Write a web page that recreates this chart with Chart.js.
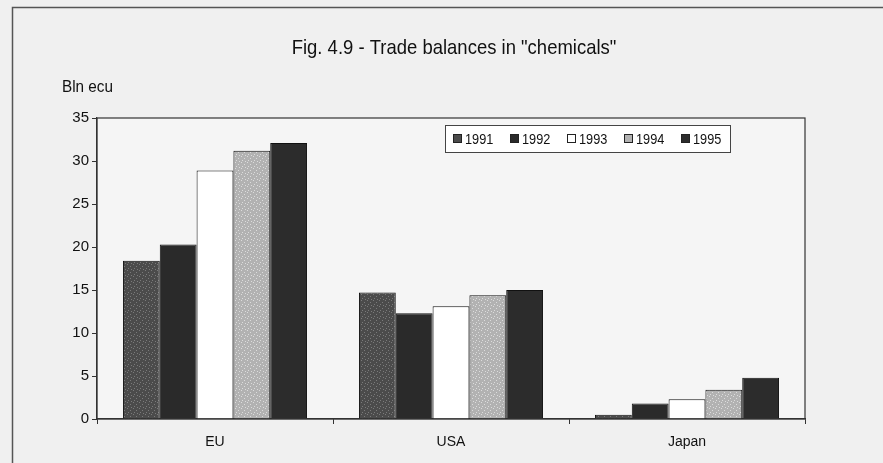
<!DOCTYPE html>
<html>
<head>
<meta charset="utf-8">
<script src="https://cdn.jsdelivr.net/npm/chart.js@4/dist/chart.umd.min.js"></script>
<style>
  html, body { margin: 0; padding: 0; background: #f0f0f0; }
  #wrap { width: 883px; height: 463px; position: relative; }
</style>
</head>
<body>
<div id="wrap"><canvas id="c" width="883" height="463"></canvas></div>
<script>
const categories = ['EU', 'USA', 'Japan'];
const years = ['1991', '1992', '1993', '1994', '1995'];
const v1991 = [18.4, 14.7, 0.5];
const v1992 = [20.3, 12.3, 1.8];
const v1993 = [28.9, 13.1, 2.3];
const v1994 = [31.2, 14.4, 3.4];
const v1995 = [32.1, 15.0, 4.8];
const yTicks = [0, 5, 10, 15, 20, 25, 30, 35];

const FONT = '"Liberation Sans", Arial, sans-serif';
const series = [v1991, v1992, v1993, v1994, v1995];

// speckled fill like the scanned print
function speckle(base, dot) {
  const c = document.createElement('canvas');
  c.width = 6; c.height = 6;
  const g = c.getContext('2d');
  g.fillStyle = base;
  g.fillRect(0, 0, 6, 6);
  g.fillStyle = dot;
  [[1, 0], [4, 2], [2, 4], [5, 5]].forEach(([x, y]) => g.fillRect(x, y, 1, 1));
  return g.createPattern(c, 'repeat');
}
const fills = [
  speckle('#4b4b4b', '#7a7a7a'),
  '#2a2a2a',
  '#ffffff',
  speckle('#b2b2b2', '#dcdcdc'),
  '#2c2c2c',
];
const swatch = ['#4b4b4b', '#2a2a2a', '#ffffff', '#b2b2b2', '#2c2c2c'];

function squeezed(ctx, text, x, y, sx) {
  ctx.save();
  ctx.translate(x, y);
  ctx.scale(sx, 1);
  ctx.fillText(text, 0, 0);
  ctx.restore();
}

// title, unit label, frame and legend box
const decor = {
  id: 'decor',
  beforeDraw(chart) {
    const { ctx, chartArea: a } = chart;
    ctx.save();
    ctx.fillStyle = '#f5f5f5';
    ctx.fillRect(a.left, a.top, a.right - a.left, a.bottom - a.top);
    ctx.strokeStyle = '#555';
    ctx.lineWidth = 1.5;
    ctx.beginPath();
    ctx.moveTo(12.5, 463);
    ctx.lineTo(12.5, 7.5);
    ctx.lineTo(883, 7.5);
    ctx.stroke();
    ctx.restore();
  },
  afterDraw(chart) {
    const { ctx, chartArea: a } = chart;
    ctx.save();
    ctx.fillStyle = '#111';
    ctx.textBaseline = 'middle';
    ctx.textAlign = 'center';
    ctx.font = '21px ' + FONT;
    squeezed(ctx, 'Fig. 4.9 - Trade balances in "chemicals"', 454, 48, 0.88);
    ctx.textAlign = 'left';
    ctx.font = '17px ' + FONT;
    squeezed(ctx, 'Bln ecu', 62, 87, 0.9);

    ctx.strokeStyle = '#333';
    ctx.lineWidth = 1.2;
    ctx.strokeRect(a.left, a.top, a.right - a.left, a.bottom - a.top);

    // legend
    const lx = 445, ly = 125, lw = 285, lh = 27;
    ctx.fillStyle = '#fff';
    ctx.fillRect(lx, ly, lw, lh);
    ctx.strokeStyle = '#444';
    ctx.lineWidth = 1;
    ctx.strokeRect(lx + 0.5, ly + 0.5, lw, lh);
    ctx.font = '15px ' + FONT;
    chart.data.datasets.forEach((ds, i) => {
      const x = lx + 8 + i * 57;
      const y = ly + lh / 2;
      ctx.fillStyle = swatch[i];
      ctx.fillRect(x, y - 4.5, 9, 9);
      ctx.strokeStyle = '#222';
      ctx.strokeRect(x + 0.5, y - 4, 8, 8);
      ctx.fillStyle = '#111';
      squeezed(ctx, ds.label, x + 12, y + 1, 0.85);
    });
    ctx.restore();
  }
};

new Chart(document.getElementById('c'), {
  type: 'bar',
  data: {
    labels: categories,
    datasets: years.map((y, i) => ({
      label: y,
      data: series[i],
      backgroundColor: fills[i],
      borderColor: '#111',
      borderWidth: 1,
      categoryPercentage: 0.78,
      barPercentage: 1.0,
    })),
  },
  options: {
    responsive: false,
    animation: false,
    layout: { padding: { left: 0, top: 118, right: 78, bottom: 0 } },
    plugins: { legend: { display: false }, title: { display: false }, tooltip: { enabled: false } },
    scales: {
      x: {
        afterFit: s => { s.height = 44; },
        grid: { display: true, drawOnChartArea: false, tickLength: 5, color: '#333', offset: true },
        border: { display: true, color: '#333', width: 1.2 },
        ticks: { color: '#111', font: { family: FONT, size: 14 }, padding: 10 },
      },
      y: {
        min: 0, max: 35,
        afterFit: s => { s.width = 97; },
        afterBuildTicks: s => { s.ticks = yTicks.map(v => ({ value: v })); },
        grid: { display: true, drawOnChartArea: false, tickLength: 5, color: '#333' },
        border: { display: true, color: '#333', width: 1.2 },
        ticks: { color: '#111', font: { family: FONT, size: 15 }, padding: 3 },
      },
    },
  },
  plugins: [decor],
});
</script>
</body>
</html>
